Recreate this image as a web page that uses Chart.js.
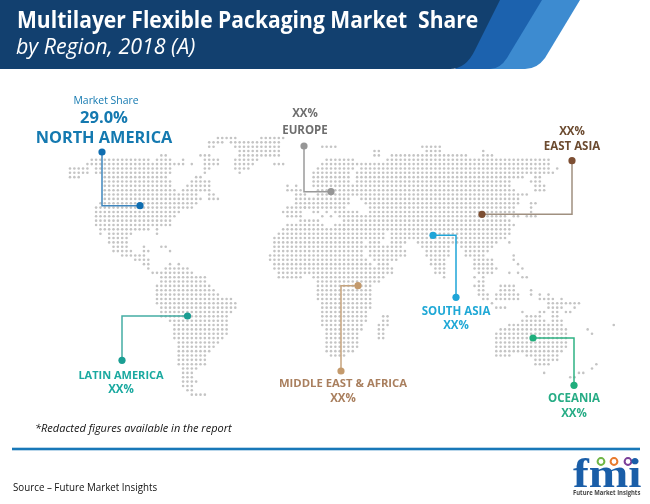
<!DOCTYPE html>
<html><head><meta charset="utf-8">
<style>
html,body{margin:0;padding:0;background:#fff;width:650px;height:504px;overflow:hidden}
#wrap{position:relative;width:650px;height:504px;font-family:"Open Sans",sans-serif}
canvas,svg.bg{position:absolute;left:0;top:0}
.t{position:absolute;white-space:nowrap;transform-origin:0 50%}
</style>
<script src="https://cdn.jsdelivr.net/npm/chart.js@4"></script>
</head><body><div id="wrap">
<svg class="bg" width="650" height="504">
<path d="M530 0H580L545 58Q537 69 525 69H470Z" fill="#3d8bd0"/>
<path d="M498 0H542L507 58Q500 69 490 69H455Z" fill="#1c62ae"/>
<path d="M0 0H500L475 50Q466 69 450 69H0Z" fill="#12406f"/>
<rect x="12" y="447.7" width="628" height="2.6" fill="#1878b8"/>
<circle cx="601" cy="461.5" r="3.4" fill="none" stroke="#6fb544" stroke-width="2"/>
<circle cx="614" cy="461.5" r="3.4" fill="none" stroke="#e8792b" stroke-width="2"/>
<circle cx="628" cy="461.5" r="3.4" fill="none" stroke="#7b3f98" stroke-width="2"/>
</svg>
<canvas id="c" width="650" height="504"></canvas>
<div class="t" style="left:17px;top:2px;font-size:24px;font-weight:700;color:#fff;transform:scaleX(.878)">Multilayer Flexible Packaging Market&nbsp; Share</div>
<div class="t" style="left:16px;top:31px;font-size:21.4px;font-style:italic;color:#fff">by Region, 2018 (A)</div>
<div class="t" style="left:35px;top:420px;font-size:11px;font-style:italic;color:#111">*Redacted figures available in the report</div>
<div class="t" style="left:13px;top:479px;font-size:11.5px;color:#111;transform:scaleX(.85)">Source – Future Market Insights</div>
<div class="t" style="left:573px;top:450px;font-size:42px;line-height:46px;font-weight:700;font-family:'Liberation Serif',serif;color:#1a5ea8;transform:scaleX(1.13)">fmi</div>
<div class="t" style="left:573px;top:488px;font-size:7px;font-weight:700;color:#444;transform:scaleX(.84)">Future Market Insights</div>
</div>
<script>
// Dot-map rows: [row, from, to, from, to, ...]
const mapRows=[
[138,218,235,262,282],
[142.35,210,223,230,280],
[146.7,210,215,237,278,323,337,423,438],
[151,238,278,373,378,428,438,483,483],
[155.4,160,167,200,208,238,277,373,378,390,397,402,468,483,492],
[159.75,90,123,128,148,157,167,172,172,183,183,205,217,235,257,327,352,388,540,545,550],
[164.1,88,123,128,180,183,183,192,192,203,217,235,252,273,282,323,355,362,550],
[168.45,70,88,98,170,203,210,235,248,317,353,360,550,557,557],
[172.8,70,88,98,102,105,170,207,207,238,238,312,330,335,350,358,553],
[177.15,70,77,105,167,195,202,312,332,335,350,358,523,535,540],
[181.5,105,170,190,208,315,332,335,350,358,508,533,538],
[185.85,105,172,188,208,288,288,297,297,315,332,335,508,537,542],
[190.2,105,175,183,208,288,293,297,300,317,515,537,542],
[194.55,105,197,210,213,297,303,316,527],
[198.9,103,200,210,217,297,350,362,520],
[203.25,100,197,297,350,365,518,530,535],
[207.6,95,190,288,303,307,322,328,345,368,513,533,533],
[211.95,97,180,285,302,313,320,328,328,335,340,345,358,368,513,533,533],
[216.3,97,173,287,300,322,322,330,330,340,346,350,505,513,518,525,535],
[220.65,98,170,302,317,343,347,352,510],
[225,98,170,288,323,335,342,345,512],
[229.35,100,147,157,157,283,343,345,352,358,510],
[233.7,102,102,110,130,157,157,277,383,390,510],
[238.05,110,127,275,383,390,503],
[242.4,107,107,113,127,273,363,370,380,392,405,420,497,510,510],
[246.75,113,127,145,145,160,165,273,367,372,400,423,450,462,493],
[251.1,113,130,142,147,172,172,273,360,370,403,427,450,467,487],
[255.45,122,143,270,363,370,403,428,447,468,485,513,513],
[259.8,137,150,270,367,375,397,432,443,475,492,515,515],
[264.15,143,150,168,168,177,177,275,372,377,388,433,442,475,492,518,518],
[268.5,148,148,165,188,276,392,435,442,475,495,522,522],
[272.85,152,190,278,390,437,442,478,490,510,510,518,518],
[277.2,160,203,280,300,315,383,443,443,475,475,482,482,522,527],
[281.55,160,207,317,378,478,483],
[285.9,157,208,317,372,475,485,502,512],
[290.25,157,215,317,370,478,485,500,512,530,530],
[294.6,157,220,317,370,478,487,498,510,513,518,530,530,538,538,547,550],
[298.95,157,233,320,370,485,488,498,508,513,518,540,553,563,563],
[303.3,157,235,322,372,490,490,547,563,568,577],
[307.65,160,237,322,372,498,503,550,563,575,575],
[312,163,232,323,367,522,522,538,542,553,558,565,570],
[316.35,163,228,323,367,385,387,527,527,533,538,553,558],
[320.7,168,172,175,228,323,367,382,387,523,543,553,560],
[325.05,175,228,322,363,378,387,510,563,614,614],
[329.4,175,228,325,360,378,385,500,565,588,588],
[333.75,175,225,325,358,378,383,498,567,592,592],
[338.1,175,222,325,358,378,382,498,567],
[342.45,177,217,325,355,498,567],
[346.8,177,213,327,357,498,565],
[351.15,178,210,328,353,498,525,530,560],
[355.5,178,207,330,343,498,508,528,557],
[359.85,178,205,537,557],
[364.2,180,203,537,550,595,595],
[368.55,182,195,592,592],
[372.9,183,193,542,542,577,582],
[377.25,183,193,570,573],
[381.6,183,197],
[385.95,185,193],
[390.3,188,193],
[394.65,193,200,207,207]
];
const gridPitch=4.35, gridStart=70;
const regions=["NORTH AMERICA","EUROPE","EAST ASIA","SOUTH ASIA","OCEANIA","MIDDLE EAST & AFRICA","LATIN AMERICA"];
const shares=["29.0%","XX%","XX%","XX%","XX%","XX%","XX%"];
const dotColors=["#0f6db0","#969696","#7d4f33","#1fa5d8","#1fae7c","#c49a6c","#1a9e93"];
const lineColors=["#3f86bd","#9a9a9a","#a09080","#1fa5d8","#2fb384","#c6a47e","#44ada4"];
const textColors=["#1479b0","#6e6e6e","#6b4a2f","#1fa8d6","#26ac85","#a97f5e","#1aa9a0"];
const leaderX=[[102,102,140],[304,304,331],[572,572,482],[433,456,456],[533,574,574],[358,341,341],[187.5,122,122]];
const leaderY=[[152,205.7,205.7],[146,191.7,191.7],[160.7,214.3,214.3],[235.3,235.3,297.3],[338,338,385.3],[285.7,285.7,371],[316,316,360.3]];
const labelAnchor=[[104,138,118],[305,131,114],[572,147,132],[456,312,326],[574,399,414],[343,384,399],[121,376,390]];
const labelSize=[16.3,11.5,11.5,11.5,11.5,11.3,11];

const mapDots=[];
for(const r of mapRows){
  for(let i=1;i<r.length;i+=2){
    const a=Math.round((r[i]-gridStart)/gridPitch), b=Math.round((r[i+1]-gridStart)/gridPitch);
    for(let c=a;c<=b;c++) mapDots.push({x:gridStart+c*gridPitch,y:r[0]});
  }
}
const datasets=[{type:'scatter',data:mapDots,pointRadius:1.3,pointBackgroundColor:'#c4c4c4',borderWidth:0,pointBorderWidth:0,showLine:false,order:5}];
regions.forEach((n,i)=>{
  const pts=leaderX[i].map((x,j)=>({x,y:leaderY[i][j]}));
  datasets.push({type:'line',data:pts,borderColor:lineColors[i],borderWidth:1.5,tension:0,fill:false,pointRadius:[3.6,0,3.6],pointBackgroundColor:dotColors[i],pointBorderWidth:0,order:1});
});
const labels={id:'labels',afterDatasetsDraw(ch){
  const c=ch.ctx,X=ch.scales.x,Y=ch.scales.y;
  c.save();c.textAlign='center';c.textBaseline='middle';
  regions.forEach((n,i)=>{
    c.fillStyle=textColors[i];
    c.font='700 '+labelSize[i]+'px "Open Sans"';
    c.fillText(n,X.getPixelForValue(labelAnchor[i][0]),Y.getPixelForValue(labelAnchor[i][1]));
    c.font=(i==0?'700 16.5px':'700 11.5px')+' "Open Sans"';
    c.fillText(shares[i],X.getPixelForValue(labelAnchor[i][0]),Y.getPixelForValue(labelAnchor[i][2]));
  });
  c.fillStyle=textColors[0];c.font='400 10.4px "Open Sans"';
  c.fillText("Market Share",X.getPixelForValue(106),Y.getPixelForValue(101));
  c.restore();
}};
new Chart(document.getElementById('c'),{
  data:{datasets},
  options:{responsive:false,animation:false,
    layout:{padding:0,autoPadding:false},
    plugins:{legend:{display:false},tooltip:{enabled:false},title:{display:false}},
    scales:{x:{type:'linear',min:0,max:650,display:false},y:{type:'linear',min:0,max:504,reverse:true,display:false}}},
  plugins:[labels]
});
</script></body></html>
